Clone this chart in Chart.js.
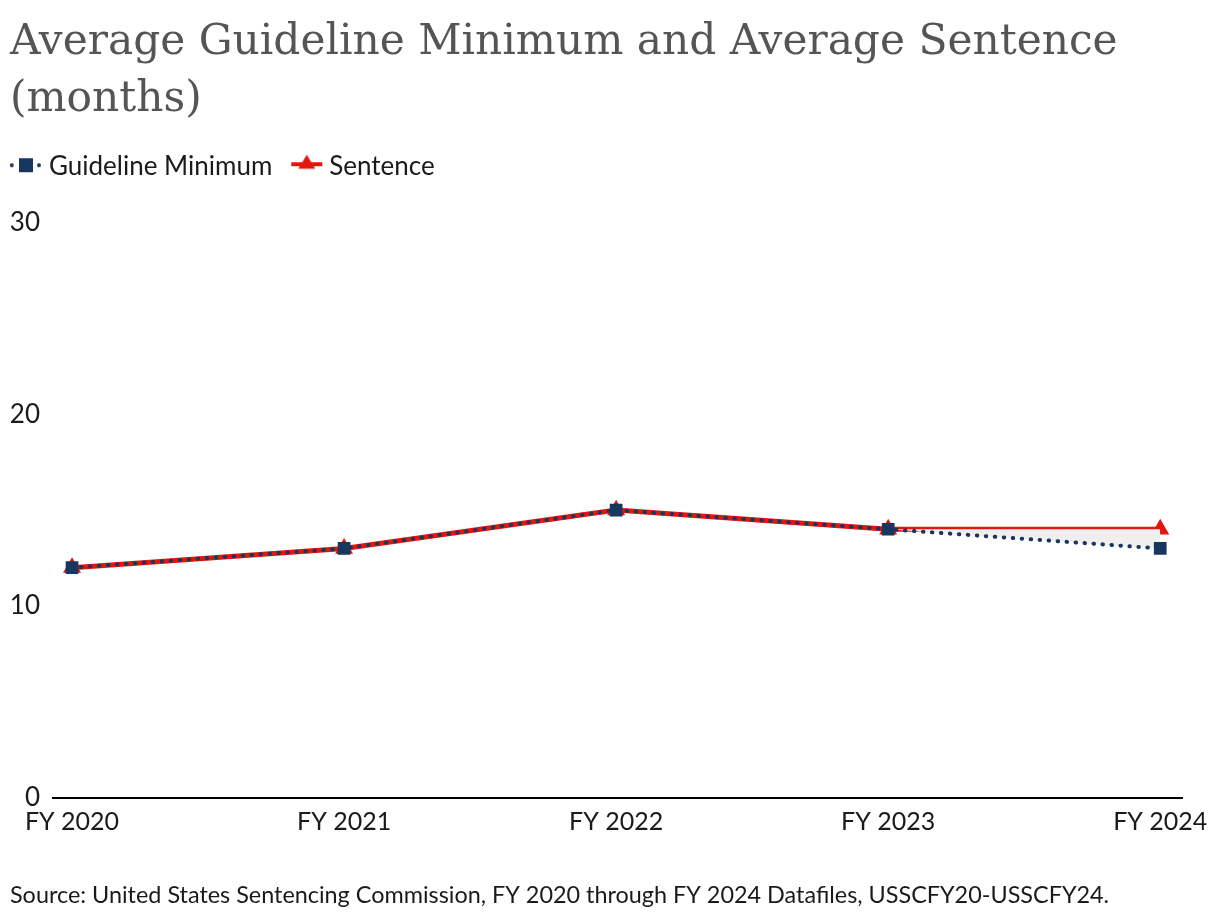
<!DOCTYPE html>
<html>
<head>
<meta charset="utf-8">
<script src="https://cdn.jsdelivr.net/npm/chart.js@4.4.1/dist/chart.umd.min.js"></script>
<style>
  html, body { margin: 0; padding: 0; background: #fff; }
  #wrap { width: 1220px; height: 922px; position: relative; }
</style>
</head>
<body>
<div id="wrap"><canvas id="c"></canvas></div>
<script>
const categories = ["FY 2020", "FY 2021", "FY 2022", "FY 2023", "FY 2024"];
const guidelineMinimum = [12, 13, 15, 14, 13];
const sentence = [12, 13, 15, 14, 14];
const yTicks = [0, 10, 20, 30];
const titleLines = ["Average Guideline Minimum and Average Sentence", "(months)"];
const sourceText = "Source: United States Sentencing Commission, FY 2020 through FY 2024 Datafiles, USSCFY20-USSCFY24.";

const NAVY = "#17375e";
const RED = "#e2160c";

// legend icons (image 52x24; visible content starts at x=o)
function legendIcon(kind) {
  const c = document.createElement("canvas");
  c.width = 52; c.height = 24;
  const g = c.getContext("2d");
  const o = 17;
  if (kind === "guide") {
    g.fillStyle = NAVY;
    g.beginPath(); g.arc(o + 1.8, 11, 2, 0, Math.PI * 2); g.fill();
    g.beginPath(); g.arc(o + 29, 11, 2, 0, Math.PI * 2); g.fill();
    g.fillRect(o + 9, 4, 14, 14);
  } else {
    const p = o + 1;
    g.strokeStyle = RED; g.lineWidth = 4;
    g.beginPath(); g.moveTo(p, 10); g.lineTo(p + 31, 10); g.stroke();
    g.fillStyle = RED;
    g.beginPath(); g.moveTo(p + 15.5, 0.5); g.lineTo(p + 24, 14.5); g.lineTo(p + 7, 14.5); g.closePath(); g.fill();
  }
  return c;
}
const icons = [legendIcon("guide"), legendIcon("sent")];

const legendSpacer = {
  id: "legendSpacer",
  beforeInit(chart) {
    const fit = chart.legend.fit;
    chart.legend.fit = function () {
      fit.bind(chart.legend)();
      this.height += 33;
    };
  },
  afterLayout(chart) {
    const w = chart.legend.right - chart.legend.left;
    chart.legend.left = -8;
    chart.legend.right = -8 + w;
  }
};

const toXY = arr => arr.map((v, i) => ({ x: i, y: v }));

new Chart(document.getElementById("c"), {
  type: "line",
  data: {
    datasets: [
      {
        label: "Guideline Minimum",
        data: toXY(guidelineMinimum),
        borderColor: NAVY,
        backgroundColor: "#efefef",
        borderWidth: 4,
        borderDash: [0.5, 8.5],
        borderCapStyle: "round",
        fill: "+1",
        pointStyle: "rect",
        pointRadius: 9,
        pointHoverRadius: 9,
        pointBackgroundColor: NAVY,
        pointBorderColor: NAVY,
        pointBorderWidth: 0,
        tension: 0
      },
      {
        label: "Sentence",
        data: toXY(sentence),
        borderColor: RED,
        backgroundColor: RED,
        borderWidth: 5,
        fill: false,
        pointStyle: "triangle",
        pointRadius: 10.4,
        pointHoverRadius: 10.4,
        pointBackgroundColor: RED,
        pointBorderColor: RED,
        pointBorderWidth: 0,
        tension: 0
      }
    ]
  },
  plugins: [legendSpacer],
  options: {
    responsive: true,
    maintainAspectRatio: false,
    animation: false,
    layout: { padding: { left: 10, right: 38, top: 0, bottom: 13 } },
    plugins: {
      title: {
        display: true,
        text: titleLines,
        align: "start",
        color: "#555555",
        font: { family: "'DejaVu Serif', serif", size: 42.3, weight: "normal", lineHeight: 1.35 },
        padding: { top: 14, bottom: 15 }
      },
      subtitle: {
        display: true,
        position: "bottom",
        text: sourceText,
        align: "start",
        color: "#1a1a1a",
        font: { family: "Lato", size: 23.4, weight: "normal" },
        padding: { top: 35, bottom: 0 }
      },
      legend: {
        display: true,
        align: "start",
        labels: {
          usePointStyle: true,
          pointStyleWidth: 34,
          color: "#1a1a1a",
          font: { family: "Lato", size: 26 },
          padding: 10,
          generateLabels: chart => chart.data.datasets.map((ds, i) => ({
            text: ds.label,
            pointStyle: icons[i],
            fontColor: "#1a1a1a",
            datasetIndex: i,
            hidden: false,
            lineWidth: 0
          }))
        }
      },
      tooltip: { enabled: false }
    },
    scales: {
      x: {
        type: "linear",
        min: -0.07,
        max: 4.08,
        afterBuildTicks: axis => { axis.ticks = categories.map((_, i) => ({ value: i })); },
        ticks: {
          color: "#1a1a1a",
          font: { family: "Lato", size: 25 },
          padding: 9,
          maxRotation: 0,
          autoSkip: false,
          callback: v => categories[v]
        },
        grid: { display: false, drawTicks: false },
        border: { display: true, color: "#000", width: 2 }
      },
      y: {
        min: 0,
        max: 30,
        afterBuildTicks: axis => { axis.ticks = yTicks.map(v => ({ value: v })); },
        afterFit: axis => { axis.width = 43; },
        ticks: {
          color: "#1a1a1a",
          font: { family: "Lato", size: 26 },
          padding: 13
        },
        grid: { display: false, drawTicks: false },
        border: { display: false }
      }
    }
  }
});
</script>
</body>
</html>
